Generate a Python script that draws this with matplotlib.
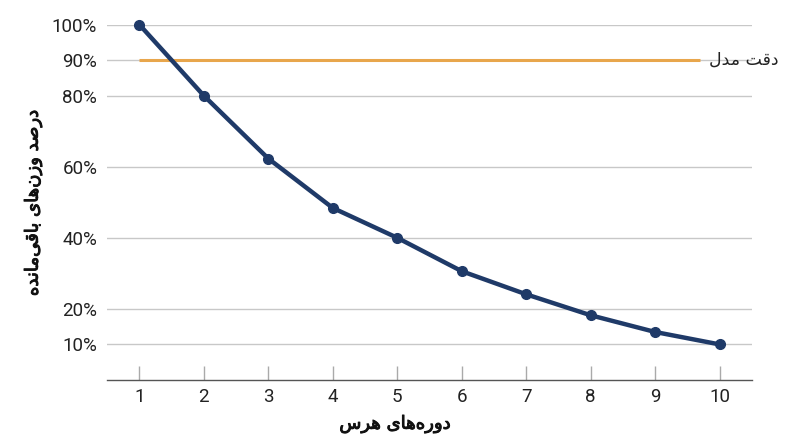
import numpy as np
import matplotlib
matplotlib.use('Agg')
import matplotlib.pyplot as plt
import matplotlib.patheffects as pe

'''Data read off the reference chart'''
epochs = [1, 2, 3, 4, 5, 6, 7, 8, 9, 10]
remaining = [100, 80, 62.3, 48.4, 40, 30.6, 24.1, 18.2, 13.5, 10]
accuracy = 90
accuracy_x = [1, 9.7]
y_ticks = [10, 20, 40, 60, 80, 90, 100]
y_ticklabels = ['10%', '20%', '40%', '60%', '80%', '90%', '100%']

# Persian labels written in Arabic presentation forms, visual (left-to-right) order,
# since matplotlib does no shaping or bidi itself
acc_label = '\uFEDD\uFEAA\uFEE3 \uFE96\uFED7\uFEA9'          # دقت مدل
x_label = '\uFEB1\uFEAE\uFEEB \uFBFC\uFE8E\uFEEB\uFEE9\uFEAD\uFEED\uFEA9'   # دوره‌های هرس
y_label = ('\uFEE9\uFEAA\uFEE7\uFE8E\uFEE3\uFBFD\uFED7\uFE8E\uFE91 '
           '\uFBFC\uFE8E\uFEEB\uFEE5\uFEAF\uFEED '
           '\uFEAA\uFEBB\uFEAD\uFEA9')                        # درصد وزن‌های باقی‌مانده

navy = '#1f3a68'
orange = '#e8a64c'

fig = plt.figure(figsize=(8, 4.47), dpi=100)
ax = fig.add_axes([107/800, 1-380/447, (752-107)/800, (380-24.5)/447])

ax.set_xlim(0.5, 10.5)
ax.set_ylim(0, 100)

for t in y_ticks:
    ax.axhline(t, color='#c8c8c8', lw=1, zorder=1)

ax.plot(accuracy_x, [accuracy, accuracy], color=orange, lw=2.2, zorder=2,
        solid_capstyle='butt')
ax.plot(epochs, remaining, color=navy, lw=3.2, marker='o', ms=7, zorder=3,
        clip_on=False)

ax.text(9.83, accuracy, acc_label, fontsize=12.5, family=['DejaVu Sans'],
        va='center', ha='left', color='#222222')

for s in ['top', 'right', 'left']:
    ax.spines[s].set_visible(False)
ax.spines['bottom'].set_color('#555555')
ax.spines['bottom'].set_linewidth(1)

ax.set_xticks(epochs)
ax.set_xticklabels([str(e) for e in epochs], fontsize=13.5, family='Roboto',
                   color='#222222')
ax.tick_params(axis='x', direction='in', length=10, color='#aaaaaa', width=1, pad=6)
ax.set_yticks(y_ticks)
ax.set_yticklabels(y_ticklabels, fontsize=13.5, family='Roboto', color='#222222')
ax.tick_params(axis='y', length=0, pad=7)

# slightly thickened strokes to get a medium weight between regular and bold
medium = [pe.withStroke(linewidth=0.7, foreground='#111111')]
fig.text(395/800, 1-424/447, x_label, fontsize=13,
         family=['DejaVu Sans'], ha='center', va='center', color='#111111',
         path_effects=medium)
fig.text(33/800, 1-203/447, y_label, fontsize=13,
         family=['DejaVu Sans'], ha='center', va='center', rotation=90,
         color='#111111', path_effects=medium)

fig.savefig('out.png', dpi=100)
